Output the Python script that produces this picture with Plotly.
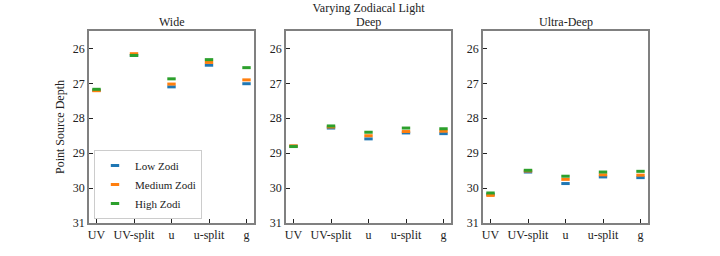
import plotly.graph_objects as go

categories = ["UV", "UV-split", "u", "u-split", "g"]
series_names = ["Low Zodi", "Medium Zodi", "High Zodi"]
colors = ["#1f77b4", "#ff7f0e", "#2ca02c"]
panel_titles = ["Wide", "Deep", "Ultra-Deep"]

wide_low = [27.20, 26.20, 27.10, 26.48, 27.01]
wide_med = [27.21, 26.15, 27.02, 26.40, 26.90]
wide_high = [27.17, 26.20, 26.87, 26.32, 26.55]

deep_low = [28.80, 28.28, 28.59, 28.42, 28.44]
deep_med = [28.79, 28.25, 28.50, 28.38, 28.37]
deep_high = [28.81, 28.22, 28.40, 28.28, 28.30]

ultra_low = [30.18, 29.54, 29.87, 29.68, 29.70]
ultra_med = [30.21, 29.51, 29.75, 29.62, 29.63]
ultra_high = [30.14, 29.49, 29.66, 29.54, 29.52]

y_ticks = [26, 27, 28, 29, 30, 31]

panels = [
    [wide_low, wide_med, wide_high],
    [deep_low, deep_med, deep_high],
    [ultra_low, ultra_med, ultra_high],
]

W, H = 720, 256
L, R, T, B = 89, 72, 31, 33
pw = W - L - R
ph = H - T - B
domains = [(0, 165 / pw), (197 / pw, 362 / pw), (394 / pw, 1.0)]

font_family = "Liberation Serif, DejaVu Serif, serif"
fig = go.Figure()

for p, series in enumerate(panels):
    xa = "x" if p == 0 else f"x{p+1}"
    ya = "y" if p == 0 else f"y{p+1}"
    for s, vals in enumerate(series):
        fig.add_trace(go.Scatter(
            x=categories, y=vals, mode="markers",
            name=series_names[s],
            showlegend=(p == 0),
            legendgroup=series_names[s],
            marker=dict(symbol="line-ew", size=6,
                        line=dict(width=3, color=colors[s]), color=colors[s]),
            xaxis=xa, yaxis=ya,
        ))

layout = dict(
    width=W, height=H,
    margin=dict(l=L, r=R, t=T, b=B),
    paper_bgcolor="white", plot_bgcolor="white",
    font=dict(family=font_family, size=11, color="#222"),
    title=dict(text="Varying Zodiacal Light", x=(L + pw / 2) / W, xanchor="center",
               y=1 - 8 / H, yanchor="middle",
               font=dict(family=font_family, size=12, color="#222")),
    showlegend=True,
    legend=dict(x=5 / pw, y=4 / ph, xanchor="left", yanchor="bottom",
                bgcolor="rgba(255,255,255,0.9)", bordercolor="#cccccc",
                borderwidth=1, font=dict(family=font_family, size=11),
                tracegroupgap=0, itemwidth=30),
    annotations=[],
)

for p in range(3):
    xk = "xaxis" if p == 0 else f"xaxis{p+1}"
    yk = "yaxis" if p == 0 else f"yaxis{p+1}"
    ya = "y" if p == 0 else f"y{p+1}"
    xa = "x" if p == 0 else f"x{p+1}"
    layout[xk] = dict(
        domain=list(domains[p]), anchor=ya, type="category",
        categoryorder="array", categoryarray=categories,
        range=[-0.2, 4.2], showgrid=False, zeroline=False,
        showline=True, linecolor="#808080", linewidth=1.5, mirror=True,
        ticks="inside", ticklen=4, tickcolor="#222", tickwidth=1,
        tickfont=dict(family=font_family, size=12, color="#222"),
    )
    layout[yk] = dict(
        domain=[0, 1], anchor=xa,
        range=[31, 25.5], tickvals=y_ticks, ticktext=[str(t) for t in y_ticks],
        showgrid=False, zeroline=False,
        showline=True, linecolor="#808080", linewidth=1.5, mirror=True,
        ticks="inside", ticklen=4, tickcolor="#222", tickwidth=1,
        tickfont=dict(family=font_family, size=12, color="#222"),
    )
    layout["annotations"].append(dict(
        text=panel_titles[p], xref="paper", yref="paper",
        x=(domains[p][0] + domains[p][1]) / 2, y=1, xanchor="center",
        yanchor="bottom", yshift=0, showarrow=False,
        font=dict(family=font_family, size=12, color="#222"),
    ))

layout["yaxis"]["title"] = dict(text="Point Source Depth", standoff=6,
                                font=dict(family=font_family, size=12, color="#222"))

fig.update_layout(**layout)
fig.write_html("out.html",
               config={"displayModeBar": False},
               post_script="document.body.style.margin='0';document.body.style.overflow='hidden';")
